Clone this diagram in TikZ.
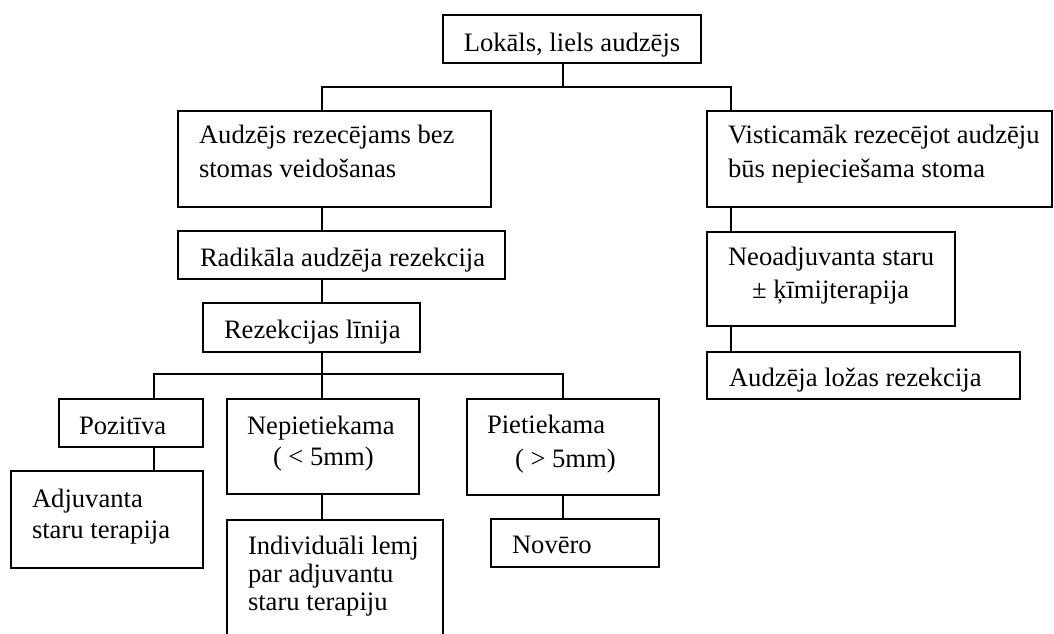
\documentclass[tikz,border=0pt]{standalone}
\usepackage{fontspec}
\setmainfont{Liberation Serif}
\begin{document}
\begin{tikzpicture}[x=1pt,y=-1pt,
  box/.style={draw, line width=1.6pt, inner sep=0pt, outer sep=0pt, anchor=north west},
  txt/.style={inner sep=0pt, outer sep=0pt, anchor=base west, align=left,
              font=\fontsize{26.6pt}{32pt}\selectfont},
  lskip/.style={font=\fontsize{26.6pt}{#1}\selectfont},
  link/.style={line width=1.6pt}]
\useasboundingbox (0,0) rectangle (1054,633);
\clip (0,0) rectangle (1054,633);
% boxes
\node[box, minimum width=258pt, minimum height=48pt] (top) at (443,15) {};
\node[box, minimum width=313pt, minimum height=96pt] (b1) at (178,111) {};
\node[box, minimum width=345pt, minimum height=96pt] (b2) at (707,111) {};
\node[box, minimum width=327pt, minimum height=48pt] (b3) at (178,231) {};
\node[box, minimum width=217pt, minimum height=49pt] (b4) at (203,303) {};
\node[box, minimum width=248pt, minimum height=94pt] (b5) at (707,232) {};
\node[box, minimum width=313pt, minimum height=47pt] (b6) at (707,352) {};
\node[box, minimum width=144pt, minimum height=48pt] (p1) at (59,399) {};
\node[box, minimum width=192pt, minimum height=95pt] (p2) at (227,399) {};
\node[box, minimum width=192pt, minimum height=96pt] (p3) at (467,399) {};
\node[box, minimum width=192pt, minimum height=97pt] (q1) at (11,471) {};
\node[box, minimum width=216pt, minimum height=170pt] (q2) at (227,520) {};
\node[box, minimum width=168pt, minimum height=48pt] (q3) at (491,519) {};
% texts (multi-line texts are placed at the baseline of their last line)
\node[txt, anchor=base] (ttop) at (572,51) {Lokāls, liels audzējs};
\node[txt, lskip=34pt] (tb1) at (199,177) {Audzējs rezecējams bez\\stomas veidošanas};
\node[txt, lskip=34pt] (tb2) at (728,177) {Visticamāk rezecējot audzēju\\būs nepieciešama stoma};
\node[txt] (tb3) at (200,266) {Radikāla audzēja rezekcija};
\node[txt] (tb4) at (224,338) {Rezekcijas līnija};
\node[txt, lskip=33pt] (tb5) at (728,298) {Neoadjuvanta staru\\\hspace*{24pt}± ķīmijterapija};
\node[txt] (tb6) at (729,386) {Audzēja ložas rezekcija};
\node[txt] (tp1) at (79,434) {Pozitīva};
\node[txt, lskip=31pt] (tp2) at (247,465) {Nepietiekama\\\hspace*{26pt}( < 5mm)};
\node[txt, lskip=34pt] (tp3) at (487,467) {Pietiekama\\\hspace*{28pt}( > 5mm)};
\node[txt, lskip=31pt] (tq1) at (32,538) {Adjuvanta\\staru terapija};
\node[txt, lskip=28pt] (tq2) at (248,610) {Individuāli lemj\\par adjuvantu\\staru terapiju};
\node[txt] (tq3) at (512,553) {Novēro};
% connector points
\coordinate (ctop) at (563,63);
\coordinate (cb1) at (322,111);
\coordinate (cb2) at (731,111);
\coordinate (bus1) at (0,87);
\coordinate (bus2) at (0,374);
\coordinate (cl) at (322,0);
\coordinate (cr) at (731,0);
\coordinate (c1) at (154,0);
\coordinate (c3) at (563,0);
% connectors
\draw[link] (ctop) -- (ctop |- bus1);
\draw[link] (cb1) -- (cb1 |- bus1) -- (cb2 |- bus1) -- (cb2);
\draw[link] (cl |- b1.south) -- (cl |- b3.north);
\draw[link] (cl |- b3.south) -- (cl |- b4.north);
\draw[link] (cl |- b4.south) -- (cl |- bus2);
\draw[link] (c1 |- p1.north) -- (c1 |- bus2) -- (c3 |- bus2) -- (c3 |- p3.north);
\draw[link] (cl |- bus2) -- (cl |- p2.north);
\draw[link] (c1 |- p1.south) -- (c1 |- q1.north);
\draw[link] (cl |- p2.south) -- (cl |- q2.north);
\draw[link] (c3 |- p3.south) -- (c3 |- q3.north);
\draw[link] (cr |- b2.south) -- (cr |- b5.north);
\draw[link] (cr |- b5.south) -- (cr |- b6.north);
\end{tikzpicture}
\end{document}
